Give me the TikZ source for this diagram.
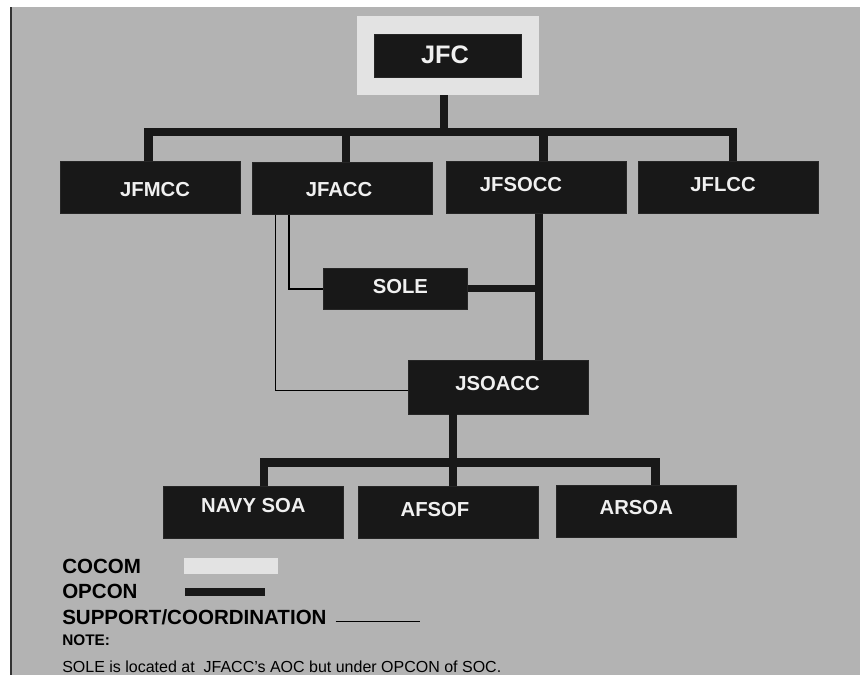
\documentclass[tikz,border=0pt]{standalone}
\usepackage{fontspec}
\setmainfont{Liberation Sans}
\usetikzlibrary{calc}
\definecolor{bg}{HTML}{B3B3B3}
\definecolor{dark}{HTML}{181818}
\definecolor{light}{HTML}{E3E3E3}
\definecolor{boxtext}{HTML}{F0F0F0}
\begin{document}
\begin{tikzpicture}[x=0.75pt,y=-0.75pt,
  unitbox/.style={fill=dark, draw=black!85, line width=0.6pt, inner sep=0pt, minimum width=135pt, minimum height=39pt},
  boxlabel/.style={text=boxtext, font=\fontsize{15.2}{18}\selectfont\bfseries, inner sep=0pt},
  opcon/.style={draw=dark, line width=6.4pt},
  support/.style={draw=black, line width=1.1pt},
  legendtext/.style={anchor=base west, inner sep=0pt, font=\fontsize{15.4}{18}\selectfont\bfseries}]

\useasboundingbox (0,0) rectangle (860,675);
\fill[white] (0,0) rectangle (860,675);
\fill[bg] (10,7) rectangle (860,675);
\draw[black!80, line width=1.5pt] (10.5,7) -- (10.5,675);

% JFC
\node[fill=light, inner sep=0pt, minimum width=136.8pt, minimum height=59.5pt] (cocom) at (447.8,55.35) {};
\node[unitbox, minimum width=109.7pt, minimum height=32.25pt] (jfc) at (447.8,55.5) {};
\node[boxlabel, font=\fontsize{19}{22}\selectfont\bfseries] (jfc-t) at (445,55) {JFC};

% second row
\node[unitbox] (jfmcc) at (150.85,187.5) {};
\node[boxlabel] (jfmcc-t) at (155,190) {JFMCC};
\node[unitbox] (jfacc) at (342.3,188.35) {};
\node[boxlabel] (jfacc-t) at (339,190) {JFACC};
\node[unitbox] (jfsocc) at (536.2,187.2) {};
\node[boxlabel] (jfsocc-t) at (521,185) {JFSOCC};
\node[unitbox] (jflcc) at (728.2,187.5) {};
\node[boxlabel] (jflcc-t) at (723,185) {JFLCC};

% SOLE and JSOACC
\node[unitbox, minimum width=107.85pt, minimum height=30.75pt] (sole) at (395.5,288.8) {};
\node[boxlabel] (sole-t) at (400.4,286.7) {SOLE};
\node[unitbox, minimum height=40.5pt] (jsoacc) at (498,387) {};
\node[boxlabel] (jsoacc-t) at (497.5,383.3) {JSOACC};

% bottom row
\node[unitbox] (navy) at (253.2,512.5) {};
\node[boxlabel] (navy-t) at (253.4,506) {NAVY SOA};
\node[unitbox] (afsof) at (448.35,512.15) {};
\node[boxlabel] (afsof-t) at (435,510) {AFSOF};
\node[unitbox] (arsoa) at (646.75,511.3) {};
\node[boxlabel] (arsoa-t) at (636.3,507.3) {ARSOA};

% OPCON tree (top)
\coordinate (bar) at (444,132);
\draw[opcon] (cocom.south -| bar) -- (bar);
\draw[opcon, line join=miter] ($(jfmcc.north)+(-2.2,0)$) |- (bar) -| ($(jflcc.north)+(4.8,0)$);
\coordinate (v2) at ($(jfacc.north)+(3.7,0)$);
\draw[opcon] (v2) -- (v2 |- bar);
\coordinate (v3) at ($(jfsocc.north)+(7.4,0)$);
\draw[opcon] (v3) -- (v3 |- bar);

% JFSOCC - JSOACC, SOLE
\coordinate (j1) at (539,288.8);
\draw[opcon] (jfsocc.south -| j1) -- (jsoacc.north -| j1);
\draw[opcon, line width=5.2pt] (sole.east) -- (sole.east -| j1);

% support lines
\coordinate (t1) at (289,0);
\coordinate (t2) at (275.4,0);
\draw[support] (jfacc.south -| t1) |- (sole.west);
\draw[support] (jfacc.south -| t2) |- ($(jsoacc.west)+(0,3.7)$);

% OPCON tree (bottom)
\coordinate (b2) at (453,462.5);
\draw[opcon] (jsoacc.south -| b2) -- (afsof.north -| b2);
\draw[opcon, line join=miter] ($(navy.north)+(10.8,0)$) |- (b2) -| ($(arsoa.north)+(8.75,0)$);

% legend
\node[legendtext] (l-cocom) at (62,573) {COCOM};
\node[fill=light, inner sep=0pt, minimum width=70.35pt, minimum height=12pt] (sw-cocom) at (230.7,566.3) {};
\node[legendtext] (l-opcon) at (62,598) {OPCON};
\node[fill=dark, inner sep=0pt, minimum width=60pt, minimum height=5.5pt] (sw-opcon) at (225,592) {};
\node[legendtext] (l-support) at (62,624.5) {SUPPORT/COORDINATION};
\coordinate (sw-a) at (335.7,621.7);
\coordinate (sw-b) at (420,621.7);
\draw[support] (sw-a) -- (sw-b);
\node[anchor=base west, inner sep=0pt, font=\fontsize{11.5}{14}\selectfont\bfseries] (l-note) at (62,645.5) {NOTE:};
\node[anchor=base west, inner sep=0pt, font=\fontsize{12}{14}\selectfont] (note) at (62,672.3) {SOLE is located at\ \ JFACC’s AOC but under OPCON of SOC.};
\end{tikzpicture}
\end{document}
